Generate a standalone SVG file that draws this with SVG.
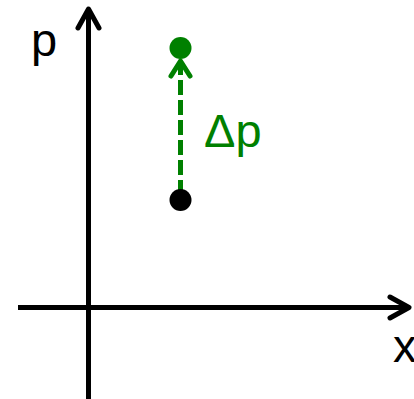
<svg xmlns="http://www.w3.org/2000/svg" width="414" height="399" viewBox="0 0 414 399">
<style>
.axis{stroke:#000;stroke-width:5;fill:none;stroke-linecap:round;stroke-linejoin:round}
.lbl{font-family:"Liberation Sans",Arial,sans-serif;font-size:47px}
.g{stroke:#008000;stroke-width:5;fill:none}
</style>
<rect width="414" height="399" fill="#fff"/>
<g id="axes">
<line class="axis" x1="18" y1="307.5" x2="408" y2="307.5" style="stroke-linecap:butt"/>
<polyline class="axis" points="390,297 409,307.5 390,318"/>
<line class="axis" x1="88.5" y1="399" x2="88.5" y2="10" style="stroke-linecap:butt"/>
<polyline class="axis" points="78,28 88.5,9 99,28"/>
<text class="lbl" x="31" y="56">p</text>
<text class="lbl" x="393" y="362">x</text>
</g>
<g id="connectors">
<line class="g" x1="180.5" y1="195" x2="180.5" y2="64" stroke-dasharray="15,5"/>
<polyline class="g" points="171,76 180.5,61 190,76" stroke-linecap="round" stroke-linejoin="round"/>
</g>
<g id="start"><circle cx="180.5" cy="200" r="11" fill="#000"/></g>
<g id="end"><circle cx="180.5" cy="48" r="11" fill="#008000"/></g>
<text class="lbl" x="204" y="147" fill="#008000">Δp</text>
</svg>
